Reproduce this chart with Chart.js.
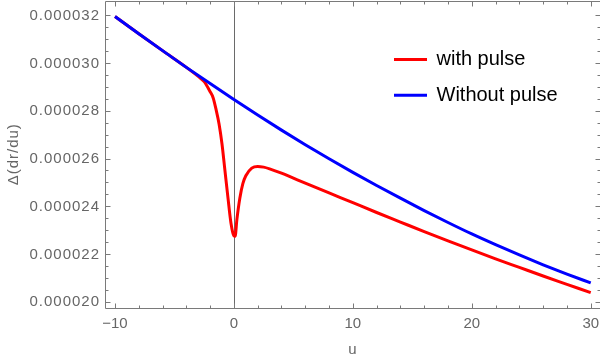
<!DOCTYPE html>
<html>
<head>
<meta charset="utf-8">
<script src="https://cdn.jsdelivr.net/npm/chart.js@4"></script>
<style>
html,body{margin:0;padding:0;background:#fff;}
#c{display:block;}
</style>
</head>
<body>
<canvas id="c" width="600" height="360"></canvas>
<script>
// ---- data (y values in units of 1e-6) ----
const uRed = [-10,-8,-6,-4,-3,-2.5,-2,-1.75,-1.5,-1.25,-1,-0.75,-0.5,-0.25,0,0.1,0.25,0.5,0.75,1,1.5,2,2.5,3,4,5,6,8,10,12,14,16,18,20,22,24,26,28,30];
const withPulse = [31.95,31.23,30.52,29.82,29.44,29.22,28.8,28.55,28.05,27.45,26.6,25.47,24.35,23.3,22.76,22.74,23.45,24.35,24.95,25.28,25.6,25.67,25.64,25.57,25.39,25.18,24.97,24.56,24.15,23.74,23.34,22.94,22.55,22.17,21.8,21.44,21.08,20.73,20.38];
const uBlue = [-10,-8,-6,-4,-2,0,2,4,6,8,10,12,14,16,18,20,22,24,26,28,30];
const withoutPulse = [31.95,31.23,30.52,29.82,29.14,28.47,27.82,27.19,26.58,25.99,25.42,24.87,24.34,23.82,23.32,22.84,22.39,21.96,21.55,21.16,20.79];
const seriesLabels = ["with pulse","Without pulse"];
const xMajorTicks = [-10,0,10,20,30];
const xTickLabels = ["\u221210","0","10","20","30"];
const xMinorStep = 2;
const yMajorTicks = [20,22,24,26,28,30,32];
const yTickLabels = ["0.000020","0.000022","0.000024","0.000026","0.000028","0.000030","0.000032"];
const yMinorStep = 0.5;
const xTitle = "u";
const yTitle = "\u0394(dr/du)";

const GRAY = '#666666';
const FRAME = '#7a7a7a';
const FONT = '"Liberation Sans", Arial, sans-serif';

const framePlugin = {
  id: 'frame',
  beforeDatasetsDraw(chart) {
    const {ctx, chartArea: a, scales: {x}} = chart;
    const px = Math.round(x.getPixelForValue(0)) + 0.5;
    ctx.save();
    ctx.strokeStyle = '#6a6a6a';
    ctx.lineWidth = 1;
    ctx.beginPath(); ctx.moveTo(px, a.top); ctx.lineTo(px, a.bottom); ctx.stroke();
    ctx.restore();
  },
  afterDatasetsDraw(chart) {
    const {ctx, chartArea: a, scales: {x, y}} = chart;
    ctx.save();
    ctx.strokeStyle = FRAME;
    ctx.lineWidth = 1;
    const L = Math.round(a.left) + 0.5, R = Math.round(a.right) + 0.5;
    const T = Math.round(a.top) + 0.5, B = Math.round(a.bottom) + 0.5;
    ctx.beginPath();
    ctx.moveTo(L, T); ctx.lineTo(R, T); ctx.lineTo(R, B); ctx.lineTo(L, B); ctx.closePath();
    ctx.stroke();
    // x ticks (bottom and top, inward)
    ctx.beginPath();
    for (let v = xMajorTicks[0]; v <= xMajorTicks[xMajorTicks.length-1] + 1e-9; v += xMinorStep) {
      const major = xMajorTicks.some(t => Math.abs(t - v) < 1e-9);
      const len = major ? 5 : 3;
      const p = Math.round(x.getPixelForValue(v)) + 0.5;
      ctx.moveTo(p, B); ctx.lineTo(p, B - len);
      ctx.moveTo(p, T); ctx.lineTo(p, T + len);
    }
    // y ticks (left and right, inward)
    for (let v = yMajorTicks[0]; v <= yMajorTicks[yMajorTicks.length-1] + 1e-9; v += yMinorStep) {
      const major = yMajorTicks.some(t => Math.abs(t - v) < 1e-9);
      const len = major ? 5 : 3;
      const p = Math.round(y.getPixelForValue(v)) + 0.5;
      ctx.moveTo(L, p); ctx.lineTo(L + len, p);
      ctx.moveTo(R, p); ctx.lineTo(R - len, p);
    }
    ctx.stroke();
    // tick labels
    ctx.fillStyle = GRAY;
    ctx.font = '15px ' + FONT;
    ctx.textAlign = 'center';
    ctx.textBaseline = 'middle';
    xMajorTicks.forEach((v, i) => {
      ctx.fillText(xTickLabels[i], x.getPixelForValue(v), a.bottom + 16);
    });
    ctx.textAlign = 'right';
    ctx.letterSpacing = '1px';
    yMajorTicks.forEach((v, i) => {
      ctx.fillText(yTickLabels[i], a.left - 5, y.getPixelForValue(v) + 0.5);
    });
    // axis titles
    ctx.textAlign = 'center';
    ctx.letterSpacing = '0px';
    ctx.fillText(xTitle, (a.left + a.right) / 2, 350);
    ctx.save();
    ctx.translate(14, (a.top + a.bottom) / 2);
    ctx.rotate(-Math.PI / 2);
    ctx.letterSpacing = '1px';
    ctx.fillText(yTitle, 0, 0);
    ctx.restore();
    // legend
    ctx.letterSpacing = '0px';
    ctx.font = '20px ' + FONT;
    ctx.textAlign = 'left';
    ctx.textBaseline = 'alphabetic';
    chart.data.datasets.forEach((ds, i) => {
      const ly = 59.5 + i * 35.7;
      ctx.strokeStyle = ds.borderColor;
      ctx.lineWidth = 3;
      ctx.beginPath(); ctx.moveTo(394, ly); ctx.lineTo(427, ly); ctx.stroke();
      ctx.fillStyle = '#000';
      ctx.fillText(ds.label, 436.5, ly + 5.8);
    });
    ctx.restore();
  }
};

new Chart(document.getElementById('c'), {
  type: 'line',
  data: {
    datasets: [
      {
        label: seriesLabels[0],
        data: uRed.map((u, i) => ({x: u, y: withPulse[i]})),
        borderColor: '#ff0000',
        borderWidth: 3,
        pointRadius: 0,
        cubicInterpolationMode: 'monotone',
        fill: false,
        order: 1
      },
      {
        label: seriesLabels[1],
        data: uBlue.map((u, i) => ({x: u, y: withoutPulse[i]})),
        borderColor: '#0000ff',
        borderWidth: 3,
        pointRadius: 0,
        cubicInterpolationMode: 'monotone',
        fill: false,
        order: 0
      }
    ]
  },
  options: {
    responsive: false,
    animation: false,
    devicePixelRatio: 1,
    layout: { padding: { left: 105, right: 0, top: 1, bottom: 52.5 } },
    plugins: { legend: { display: false }, tooltip: { enabled: false } },
    scales: {
      x: { type: 'linear', min: -10.84, max: 30.78, display: false },
      y: { type: 'linear', min: 19.76, max: 32.6, display: false }
    }
  },
  plugins: [framePlugin]
});
</script>
</body>
</html>
